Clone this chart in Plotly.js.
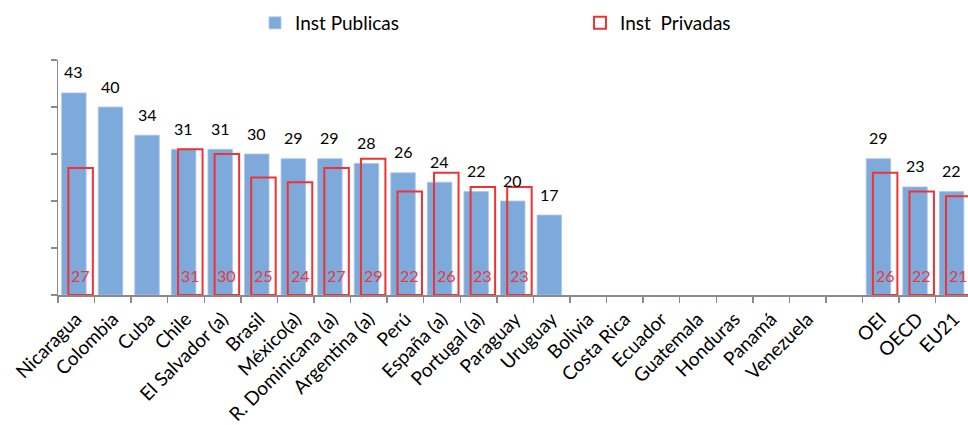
<!DOCTYPE html>
<html>
<head>
<meta charset="utf-8">
<script src="https://cdn.plot.ly/plotly-3.0.1.min.js"></script>
<style>html,body{margin:0;padding:0;background:#fff;}#chart{width:968px;height:425px;}</style>
</head>
<body>
<div id="chart"></div>
<script>
var categories = ["Nicaragua","Colombia","Cuba","Chile","El Salvador (a)","Brasil","México(a)","R. Dominicana (a)","Argentina (a)","Perú","España (a)","Portugal (a)","Paraguay","Uruguay","Bolivia","Costa Rica","Ecuador","Guatemala","Honduras","Panamá","Venezuela"," ","OEI","OECD","EU21"];
var publicas = [43,40,34,31,31,30,29,29,28,26,24,22,20,17,null,null,null,null,null,null,null,null,29,23,22];
var privadas = [27,null,null,31,30,25,24,27,29,22,26,23,23,null,null,null,null,null,null,null,null,null,26,22,21];
var seriesNames = ["Inst Publicas","Inst  Privadas"];

var FONT = "Lato, 'Noto Sans', sans-serif";
var BLUE = "#7eaadb";
var RED = "#f03232";
var RED_TXT = "#e8383c";
var catPx = 36.57;
var barW = 0.67;
var pubOff = -0.40, privOff = -0.217;

var traces = [
  {type:"bar", name:seriesNames[0], x:categories, y:publicas,
   width:barW, offset:pubOff,
   marker:{color:BLUE, line:{color:"#a9c6e8", width:0.8}}, hoverinfo:"x+y"},
  {type:"bar", name:seriesNames[1], x:categories, y:privadas,
   width:barW, offset:privOff,
   marker:{color:"rgba(0,0,0,0)", line:{color:RED, width:2}}, hoverinfo:"x+y"}
];

var ann = [];
categories.forEach(function(c,i){
  if (publicas[i] != null) {
    ann.push({x:c, y:publicas[i], xref:"x", yref:"y", text:String(publicas[i]), showarrow:false,
      yshift:21, xshift:(pubOff+barW/2)*catPx, yanchor:"middle",
      font:{family:FONT, size:16, color:"#000"}});
  }
  if (privadas[i] != null) {
    ann.push({x:c, y:0, xref:"x", yref:"y", text:String(privadas[i]), showarrow:false,
      yshift:20, xshift:(privOff+barW/2)*catPx, yanchor:"middle",
      font:{family:FONT, size:16, color:RED_TXT}});
  }
});

var layout = {
  width:968, height:425,
  margin:{l:58, r:0, t:60, b:130, pad:0},
  paper_bgcolor:"#fff", plot_bgcolor:"#fff",
  barmode:"overlay",
  font:{family:FONT, size:16, color:"#000"},
  showlegend:true,
  legend:{orientation:"h", xref:"container", yref:"container", x:255/968, y:1-4/425,
    xanchor:"left", yanchor:"top", entrywidth:280, entrywidthmode:"pixels",
    font:{family:FONT, size:19, color:"#000"}, bgcolor:"rgba(0,0,0,0)"},
  xaxis:{type:"category", range:[-0.5, -0.5 + 910/catPx], showline:true, linecolor:"#8a8a8a", linewidth:1.5,
    ticks:"outside", tickson:"boundaries", ticklen:6, tickcolor:"#8a8a8a", tickwidth:1.5,
    ticklabelstandoff:4,
    tickangle:-45, tickfont:{family:FONT, size:19, color:"#000"}, showgrid:false, zeroline:false, fixedrange:true},
  yaxis:{range:[0,50], dtick:10, tick0:0, showline:true, linecolor:"#8a8a8a", linewidth:1.5,
    ticks:"outside", ticklen:6, tickcolor:"#8a8a8a", tickwidth:1.5, showticklabels:false,
    showgrid:false, zeroline:false, fixedrange:true},
  annotations:ann
};

Plotly.newPlot("chart", traces, layout, {displayModeBar:false, staticPlot:true});
</script>
</body>
</html>
